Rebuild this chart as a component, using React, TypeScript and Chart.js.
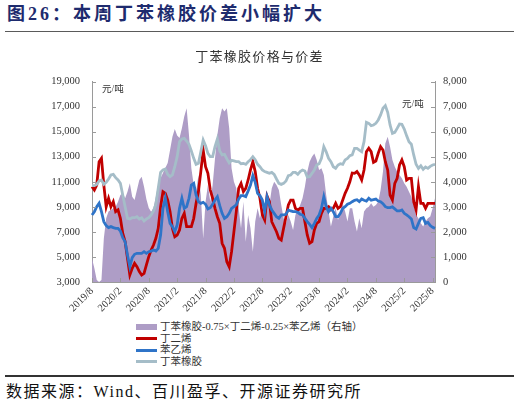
import React, { useEffect, useRef } from 'react';
import { Chart, registerables } from 'chart.js';

Chart.register(...registerables);

// x-axis tick labels (every 6 months)
const tickLabels = ['2019/8', '2020/2', '2020/8', '2021/2', '2021/8', '2022/2', '2022/8', '2023/2', '2023/8', '2024/2', '2024/8', '2025/2', '2025/8'];

// 丁苯橡胶-0.75×丁二烯-0.25×苯乙烯 (right axis), semi-monthly readings
const spread = [
  940, 550, 80, 0, 80, 1740, 2540, 2810, 2870, 2940, 3000, 3200, 3470, 3540, 3340, 3600, 3940, 3400, 3270, 3670,
  4070, 4200, 3800, 3300, 2950, 2800, 2950, 3400, 3900, 4150, 4350, 4550, 4750, 5270, 5800, 6100, 5850, 5750, 6130, 6600,
  6930, 5870, 4540, 3870, 3600, 4270, 3470, 1740, 3200, 3870, 3200, 3870, 4930, 5870, 6530, 6930, 6800, 6930, 6130, 4540,
  4000, 3740, 2940, 2140, 3200, 1610, 2670, 2140, 1210, 2410, 2940, 2540, 2940, 2670, 3470, 3070, 3740, 4000, 3870, 3670,
  3070, 2540, 2340, 2670, 2410, 2070, 2670, 2870, 3070, 3340, 3800, 4400, 4800, 5000, 5130, 4870, 4470, 4540, 4270, 3470,
  2810, 2210, 2610, 2940, 2470, 2810, 3140, 2810, 2410, 2940, 2940, 2410, 2010, 2540, 2140, 2810, 2940, 3000, 3140, 3000,
  3070, 3200, 3670, 4400, 5530, 5800, 5400, 4870, 4600, 4400, 4270, 4140, 3940, 3800, 3600, 3400, 3070, 2670, 2540, 2340,
  2210, 2410, 2540, 2610, 2940, 3340,
];

// 丁二烯
const butadiene = [
  10610, 10340, 10740, 12600, 12870, 10740, 9010, 9680, 9010, 9410, 8610, 8750, 8080, 6880, 6220, 4890, 3560, 4090, 4490, 4220,
  3830, 3560, 3690, 4360, 5020, 5550, 5950, 6490, 7280, 9010, 10210, 10080, 9540, 8610, 7280, 6620, 6750, 7150, 8080, 8480,
  7420, 7420, 7420, 8080, 9280, 10210, 11810, 13530, 12200, 11670, 10340, 9680, 8880, 8210, 7680, 6090, 5690, 4620, 4220, 5420,
  7020, 8610, 10480, 10870, 10210, 10480, 11140, 11940, 12600, 11810, 10480, 9680, 8350, 7950, 9860, 9410, 7810, 7410, 7010, 6480,
  6350, 7290, 8210, 9150, 9540, 9540, 8880, 8750, 8880, 8880, 7810, 6750, 6090, 6220, 7150, 7680, 7820, 8480, 8880, 8880,
  9010, 8750, 8880, 9280, 8880, 9010, 9540, 10080, 10480, 11000, 11700, 11670, 11810, 11540, 11140, 11940, 13400, 13670, 13400, 12550,
  12660, 13270, 13800, 13530, 12600, 11940, 9940, 9540, 10870, 11270, 12340, 12740, 12200, 11140, 11270, 11270, 9410, 8750, 10610, 9280,
  9280, 8880, 9280, 9280, 9280, 9280,
];

// 苯乙烯
const styrene = [
  8350, 8610, 9010, 9280, 8610, 7820, 7500, 7340, 7420, 7340, 7280, 7280, 7070, 6540, 6220, 5160, 4220, 4940, 5210, 5290,
  5290, 5290, 5420, 5290, 5420, 5470, 5550, 5470, 5690, 6750, 8880, 9680, 8610, 7680, 7420, 7020, 7550, 8880, 9680, 8880,
  9010, 9680, 10740, 10870, 9940, 9410, 9280, 9360, 9200, 8830, 8930, 9200, 9540, 9810, 9090, 8480, 8080, 8210, 8480, 8880,
  9010, 9150, 9620, 9890, 9890, 9810, 10260, 10740, 11490, 10950, 10080, 9890, 9540, 8600, 9810, 9150, 8750, 8480, 8210, 8080,
  8350, 8350, 8400, 8750, 8670, 8610, 8610, 8560, 8400, 8350, 8080, 7820, 7600, 7340, 7680, 8080, 8350, 8880, 9810, 9010,
  8610, 8880, 8610, 8210, 8210, 8480, 8880, 9010, 9200, 9280, 9410, 9520, 9570, 9410, 9620, 9520, 9460, 9680, 9520, 9570,
  9620, 9460, 9410, 9250, 9010, 8930, 8930, 8990, 8830, 8670, 8670, 8750, 8480, 8350, 8210, 8030, 7340, 7230, 7680, 8080,
  8130, 7680, 7760, 7500, 7360, 7280,
];

// 丁苯橡胶
const sbr = [
  10690, 10690, 10790, 11060, 11140, 10790, 10950, 11220, 11540, 11590, 11330, 11140, 10870, 9940, 9010, 8080, 8030, 8130, 8130, 8210,
  8030, 8130, 7870, 8030, 8130, 8350, 8670, 9200, 10480, 11750, 11940, 12020, 11590, 11410, 11540, 12200, 13000, 14200, 14410, 14470,
  14250, 13990, 13450, 12870, 12390, 12470, 13400, 14330, 13880, 13270, 13000, 13000, 13800, 14410, 13450, 13140, 13190, 12820, 12500, 12710,
  12660, 12600, 12600, 12440, 12470, 12390, 12600, 12760, 13000, 12760, 12390, 12200, 11940, 11810, 11750, 11670, 11750, 11590, 11220, 10870,
  10790, 10870, 11060, 11490, 11540, 11750, 11750, 11590, 11810, 11940, 11860, 11380, 11410, 11670, 11940, 12340, 12440, 12870, 13800, 13400,
  12870, 12600, 12200, 12070, 12340, 12440, 12390, 12740, 12870, 13080, 13140, 13670, 13670, 13530, 13400, 14200, 15740, 15660, 15480, 15530,
  15660, 15930, 16330, 16860, 17070, 16540, 15530, 14860, 14940, 15260, 15610, 15580, 15210, 14680, 14200, 13990, 13140, 12390, 12070, 12280,
  11990, 12180, 12070, 12230, 12340, 12390,
];

// semi-monthly periods starting 2019/8
const periods = spread.map((_, i) => {
  const m = 7 + Math.floor(i / 2);
  return `${2019 + Math.floor(m / 12)}/${(m % 12) + 1}${i % 2 === 0 ? '上' : '下'}`;
});

const SERIF = "'Liberation Serif', 'Noto Sans CJK SC', serif";
const AXIS = '#9a9a9a';

const innerTicks = {
  id: 'innerTicks',
  afterDraw(chart: any) {
    const { ctx, chartArea: a, scales } = chart;
    ctx.save();
    ctx.strokeStyle = AXIS;
    ctx.lineWidth = 1;
    ctx.beginPath();
    scales.y.ticks.forEach((t: any) => {
      const p = Math.round(scales.y.getPixelForValue(t.value)) + 0.5;
      ctx.moveTo(a.left, p);
      ctx.lineTo(a.left + 4, p);
    });
    scales.y1.ticks.forEach((t: any) => {
      const p = Math.round(scales.y1.getPixelForValue(t.value)) + 0.5;
      ctx.moveTo(a.right - 4, p);
      ctx.lineTo(a.right, p);
    });
    tickLabels.forEach((_, k) => {
      const p = Math.round(scales.x.getPixelForValue(k * 12)) + 0.5;
      ctx.moveTo(p, a.bottom);
      ctx.lineTo(p, a.bottom - 4);
    });
    ctx.stroke();
    ctx.restore();
  },
};

export default function App() {
  const ref = useRef<HTMLCanvasElement | null>(null);

  useEffect(() => {
    if (!ref.current) return;
    const chart = new Chart(ref.current, {
      type: 'line',
      data: {
        labels: periods,
        datasets: [
          {
            label: '丁苯橡胶-0.75×丁二烯-0.25×苯乙烯（右轴）',
            data: spread,
            yAxisID: 'y1',
            fill: 'origin',
            backgroundColor: '#AE9DC6',
            borderColor: '#AE9DC6',
            borderWidth: 0,
            pointRadius: 0,
            order: 4,
          },
          {
            label: '丁二烯',
            data: butadiene,
            yAxisID: 'y',
            borderColor: '#C00000',
            borderWidth: 2.8,
            pointRadius: 0,
            fill: false,
            order: 3,
          },
          {
            label: '苯乙烯',
            data: styrene,
            yAxisID: 'y',
            borderColor: '#2F74C8',
            borderWidth: 2.8,
            pointRadius: 0,
            fill: false,
            order: 2,
          },
          {
            label: '丁苯橡胶',
            data: sbr,
            yAxisID: 'y',
            borderColor: '#A5BDC8',
            borderWidth: 2.8,
            pointRadius: 0,
            fill: false,
            order: 1,
          },
        ],
      },
      options: {
        responsive: false,
        animation: false,
        layout: { padding: { top: 81.5, left: 0, right: 0, bottom: 0 } },
        plugins: { legend: { display: false }, tooltip: { enabled: false }, title: { display: false } },
        scales: {
          x: {
            type: 'category',
            offset: false,
            grid: { display: false, drawTicks: false },
            border: { display: true, color: AXIS, width: 1 },
            ticks: {
              autoSkip: false,
              maxRotation: 45,
              minRotation: 45,
              padding: 3,
              color: '#333',
              font: { family: SERIF, size: 10.5 },
              callback: (_v: any, i: number) => (i % 12 === 0 ? tickLabels[i / 12] : ''),
            },
            afterFit: (s: any) => {
              s.height = 38;
            },
          },
          y: {
            position: 'left',
            min: 3000,
            max: 19000,
            grid: { display: false, drawTicks: false },
            border: { display: true, color: AXIS, width: 1 },
            ticks: {
              stepSize: 2000,
              padding: 12,
              color: '#333',
              font: { family: SERIF, size: 10.5 },
              callback: (v: any) => Number(v).toLocaleString('en-US'),
            },
            afterFit: (s: any) => {
              s.width = 92;
            },
          },
          y1: {
            position: 'right',
            min: 0,
            max: 8000,
            grid: { display: false, drawTicks: false },
            border: { display: true, color: AXIS, width: 1 },
            ticks: {
              stepSize: 1000,
              padding: 8,
              color: '#333',
              font: { family: SERIF, size: 10.5 },
              callback: (v: any) => Number(v).toLocaleString('en-US'),
            },
            afterFit: (s: any) => {
              s.width = 84;
            },
          },
        },
      },
      plugins: [innerTicks],
    });
    return () => chart.destroy();
  }, []);

  const legendItems = [
    { label: '丁苯橡胶-0.75×丁二烯-0.25×苯乙烯（右轴）', color: '#AE9DC6', box: true, y: 327 },
    { label: '丁二烯', color: '#C00000', box: false, y: 338.5 },
    { label: '苯乙烯', color: '#2F74C8', box: false, y: 350 },
    { label: '丁苯橡胶', color: '#A5BDC8', box: false, y: 361.5 },
  ];

  return (
    <div style={{ position: 'absolute', left: 0, top: 0, width: 519, height: 405, background: '#fff', overflow: 'hidden', fontFamily: SERIF }}>
      <div
        style={{
          position: 'absolute', left: 7, top: 3, height: 22, lineHeight: '22px', fontSize: 18, fontWeight: 'bold',
          color: '#1E2B6E', letterSpacing: 3, whiteSpace: 'nowrap',
        }}
      >
        图26：本周丁苯橡胶价差小幅扩大
      </div>
      <div style={{ position: 'absolute', left: 5, top: 30.5, width: 509, height: 1.5, background: '#5a5a5a' }} />
      <canvas ref={ref} width={519} height={320} style={{ position: 'absolute', left: 0, top: 0, width: 519, height: 320 }} />
      <div
        style={{
          position: 'absolute', left: 0, width: 519, top: 49, height: 16, lineHeight: '16px', textAlign: 'center',
          fontSize: 13, color: '#333', letterSpacing: 1.3,
        }}
      >
        丁苯橡胶价格与价差
      </div>
      <div style={{ position: 'absolute', left: 102, top: 83, fontSize: 9.5, lineHeight: '12px', color: '#333' }}>元/吨</div>
      <div style={{ position: 'absolute', left: 402, top: 98, fontSize: 9.5, lineHeight: '12px', color: '#333' }}>元/吨</div>
      {legendItems.map((it) => (
        <div key={it.label} style={{ position: 'absolute', left: 136, top: it.y - 7, height: 14, display: 'flex', alignItems: 'center', whiteSpace: 'nowrap' }}>
          <div style={{ width: 21, height: it.box ? 6 : 3, background: it.color, marginRight: 3 }} />
          <span style={{ fontSize: 10.5, lineHeight: '14px', color: '#333' }}>{it.label}</span>
        </div>
      ))}
      <div style={{ position: 'absolute', left: 5, top: 375, width: 509, height: 1.5, background: '#333' }} />
      <div
        style={{
          position: 'absolute', left: 6, top: 382, height: 20, lineHeight: '20px', fontSize: 16, color: '#111',
          letterSpacing: 1.5, whiteSpace: 'nowrap',
        }}
      >
        数据来源：Wind、百川盈孚、开源证券研究所
      </div>
    </div>
  );
}
